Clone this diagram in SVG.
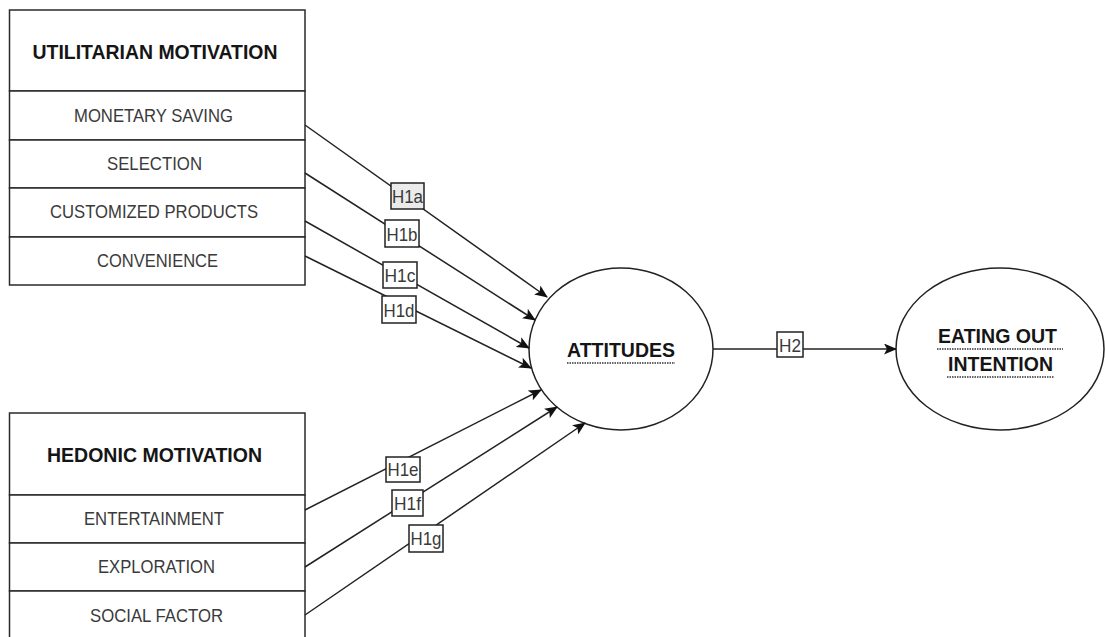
<svg xmlns="http://www.w3.org/2000/svg" width="1105" height="637" viewBox="0 0 1105 637">
<style>
.box{fill:#fff;stroke:#2a2a2a;stroke-width:1.5}
.hdr{font-family:"Liberation Sans",Arial,sans-serif;font-weight:bold;font-size:21px;fill:#151515;text-anchor:middle}
.row{font-family:"Liberation Sans",Arial,sans-serif;font-size:18.5px;fill:#3a3a3a;text-anchor:middle}
.ell{fill:#fff;stroke:#222;stroke-width:1.5}
.etx{font-family:"Liberation Sans",Arial,sans-serif;font-weight:bold;font-size:20.5px;fill:#151515;text-anchor:middle}
.ul{stroke:#333;stroke-width:1.5;stroke-dasharray:1.5 1}
.conn{stroke:#222;stroke-width:1.5;fill:none;marker-end:url(#arr)}
.lbl{fill:#fff;stroke:#222;stroke-width:1.5}
.ltx{font-family:"Liberation Sans",Arial,sans-serif;font-size:19px;fill:#3a3a3a;text-anchor:middle}
</style>
<defs>
<marker id="arr" markerWidth="13" markerHeight="11" refX="12" refY="5.5" orient="auto" markerUnits="userSpaceOnUse">
<path d="M0,0 L13,5.5 L0,11 L3,5.5 z" fill="#111"/>
</marker>
</defs>
<rect width="1105" height="637" fill="#fff"/>

<g id="utilitarian">
<rect class="box" x="9.5" y="10" width="295.5" height="81"/>
<rect class="box" x="9.5" y="91" width="295.5" height="49"/>
<rect class="box" x="9.5" y="140" width="295.5" height="48"/>
<rect class="box" x="9.5" y="188" width="295.5" height="49"/>
<rect class="box" x="9.5" y="237" width="295.5" height="48"/>
<text class="hdr" x="155" y="59" textLength="245" lengthAdjust="spacingAndGlyphs">UTILITARIAN MOTIVATION</text>
<text class="row" x="153.5" y="122" textLength="159" lengthAdjust="spacingAndGlyphs">MONETARY SAVING</text>
<text class="row" x="154.5" y="170" textLength="95" lengthAdjust="spacingAndGlyphs">SELECTION</text>
<text class="row" x="154" y="218" textLength="208" lengthAdjust="spacingAndGlyphs">CUSTOMIZED PRODUCTS</text>
<text class="row" x="157.5" y="267" textLength="121" lengthAdjust="spacingAndGlyphs">CONVENIENCE</text>
</g>

<g id="hedonic">
<rect class="box" x="9.5" y="413" width="295.5" height="82"/>
<rect class="box" x="9.5" y="495" width="295.5" height="48"/>
<rect class="box" x="9.5" y="543" width="295.5" height="48"/>
<rect class="box" x="9.5" y="591" width="295.5" height="50"/>
<text class="hdr" x="154.5" y="462" textLength="215" lengthAdjust="spacingAndGlyphs">HEDONIC MOTIVATION</text>
<text class="row" x="154" y="525" textLength="140" lengthAdjust="spacingAndGlyphs">ENTERTAINMENT</text>
<text class="row" x="156.5" y="573" textLength="117" lengthAdjust="spacingAndGlyphs">EXPLORATION</text>
<text class="row" x="156.5" y="622" textLength="133" lengthAdjust="spacingAndGlyphs">SOCIAL FACTOR</text>
</g>

<g id="attitudes">
<ellipse class="ell" cx="621" cy="349" rx="92" ry="81"/>
<text class="etx" x="621" y="357" textLength="108" lengthAdjust="spacingAndGlyphs">ATTITUDES</text>
<line class="ul" x1="567" y1="363" x2="675" y2="363"/>
</g>

<g id="eating-out-intention">
<ellipse class="ell" cx="1000" cy="349" rx="104" ry="81"/>
<text class="etx" x="997.5" y="343" textLength="119" lengthAdjust="spacingAndGlyphs">EATING OUT</text>
<line class="ul" x1="937" y1="349" x2="1063" y2="349"/>
<text class="etx" x="1000.5" y="371" textLength="105" lengthAdjust="spacingAndGlyphs">INTENTION</text>
<line class="ul" x1="947" y1="377" x2="1054" y2="377"/>
</g>

<g id="connectors">
<line class="conn" x1="305" y1="125" x2="547" y2="297"/>
<line class="conn" x1="305" y1="173" x2="535" y2="320"/>
<line class="conn" x1="305" y1="221" x2="529" y2="348"/>
<line class="conn" x1="305" y1="256" x2="531" y2="368"/>
<line class="conn" x1="305" y1="510" x2="541" y2="390"/>
<line class="conn" x1="305" y1="567" x2="557" y2="407"/>
<line class="conn" x1="305" y1="615" x2="585" y2="423"/>
<line class="conn" x1="713" y1="349" x2="896" y2="349"/>

<rect class="lbl" x="391" y="183" width="33" height="26" style="fill:#ebebeb"/>
<text class="ltx" x="407.5" y="203" textLength="31" lengthAdjust="spacingAndGlyphs">H1a</text>
<rect class="lbl" x="385" y="220" width="34" height="27"/>
<text class="ltx" x="402" y="241" textLength="31" lengthAdjust="spacingAndGlyphs">H1b</text>
<rect class="lbl" x="383" y="262" width="34" height="26"/>
<text class="ltx" x="400" y="282" textLength="31" lengthAdjust="spacingAndGlyphs">H1c</text>
<rect class="lbl" x="382" y="296" width="34" height="27"/>
<text class="ltx" x="399" y="317" textLength="31" lengthAdjust="spacingAndGlyphs">H1d</text>
<rect class="lbl" x="386" y="457" width="34" height="25"/>
<text class="ltx" x="403" y="476" textLength="31" lengthAdjust="spacingAndGlyphs">H1e</text>
<rect class="lbl" x="392" y="490" width="31" height="26"/>
<text class="ltx" x="407.5" y="510" textLength="27" lengthAdjust="spacingAndGlyphs">H1f</text>
<rect class="lbl" x="409" y="525" width="34" height="27"/>
<text class="ltx" x="426" y="545" textLength="31" lengthAdjust="spacingAndGlyphs">H1g</text>
<rect class="lbl" x="777" y="332" width="26" height="25"/>
<text class="ltx" x="790" y="352" textLength="22" lengthAdjust="spacingAndGlyphs">H2</text>
</g>
</svg>
